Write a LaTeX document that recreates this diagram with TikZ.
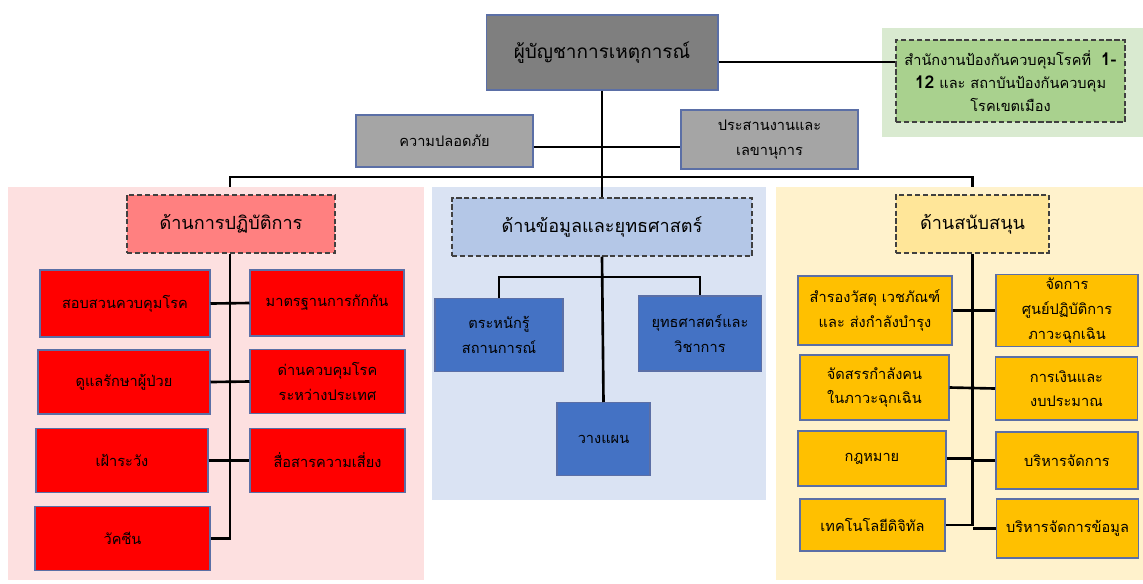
\documentclass[tikz,border=0pt]{standalone}
\usepackage{fontspec}
\newfontfamily\thaifont[Script=Thai]{Loma}
\definecolor{boxedge}{HTML}{5B6FA6}
\definecolor{icgray}{HTML}{7F7F7F}
\definecolor{staffgray}{HTML}{A5A5A5}
\definecolor{greenbg}{HTML}{D9EAD0}
\definecolor{greenbox}{HTML}{A9D18E}
\definecolor{redbg}{HTML}{FDE0E0}
\definecolor{redhead}{HTML}{FF8080}
\definecolor{reditem}{HTML}{FF0000}
\definecolor{bluebg}{HTML}{DAE3F3}
\definecolor{bluehead}{HTML}{B4C7E7}
\definecolor{blueitem}{HTML}{4472C4}
\definecolor{yellowbg}{HTML}{FFF2CC}
\definecolor{yellowhead}{HTML}{FFE699}
\definecolor{yellowitem}{HTML}{FFC000}
\begin{document}
\begin{tikzpicture}[x=0.02cm, y=-0.02cm,
  zone/.style={draw=none, inner sep=0pt},
  solidbox/.style={draw=boxedge, line width=0.6pt, align=center, inner sep=2pt,
    font=\thaifont\fontsize{8.3}{14}\selectfont},
  headbox/.style={draw=black!75, dash pattern=on 3pt off 1.5pt, line width=0.7pt,
    align=center, font=\thaifont\fontsize{10.3}{14}\selectfont},
  opsitem/.style={solidbox, fill=reditem, minimum height=1.28cm},
  infoitem/.style={solidbox, fill=blueitem, minimum height=1.46cm},
  supitem/.style={solidbox, fill=yellowitem, minimum width=2.84cm},
  link/.style={line width=1.5pt}]
\useasboundingbox (0,0) rectangle (1143,583);
% Group backgrounds
\node[zone, fill=greenbg, minimum width=5.22cm, minimum height=2.18cm] (odpcbg) at (1012.5,82.5) {};
\node[zone, fill=redbg, minimum width=8.32cm, minimum height=7.86cm] (opsbg) at (216,383.5) {};
\node[zone, fill=bluebg, minimum width=6.68cm, minimum height=6.26cm] (infobg) at (599,343.5) {};
\node[zone, fill=yellowbg, minimum width=7.34cm, minimum height=7.86cm] (supbg) at (959.5,383.5) {};
% Command
\node[solidbox, fill=icgray, minimum width=4.64cm, minimum height=1.5cm,
  font=\thaifont\fontsize{10.8}{15}\selectfont] (ic) at (602,52.5) {ผู้บัญชาการเหตุการณ์};
\node[headbox, fill=greenbox, minimum width=4.58cm, minimum height=1.64cm,
  font=\thaifont\fontsize{8.3}{13}\selectfont] (odpc) at (1010.5,81)
  {สำนักงานป้องกันควบคุมโรคที่ \ \textbf{\fontsize{10}{13}\selectfont 1-}\\
   \textbf{\fontsize{10}{13}\selectfont 12} และ สถาบันป้องกันควบคุม\\ โรคเขตเมือง};
\node[solidbox, fill=staffgray, minimum width=3.54cm, minimum height=1.04cm] (safety) at (444.5,141) {ความปลอดภัย};
\node[solidbox, fill=staffgray, minimum width=3.54cm, minimum height=1.18cm] (coord) at (769.5,139.5) {ประสานงานและ\\ เลขานุการ};
% Section heads
\node[headbox, fill=redhead, minimum width=4.16cm, minimum height=1.16cm] (ops) at (231,224) {ด้านการปฏิบัติการ};
\node[headbox, fill=bluehead, minimum width=6cm, minimum height=1.16cm] (info) at (602,227) {ด้านข้อมูลและยุทธศาสตร์};
\node[headbox, fill=yellowhead, minimum width=3.06cm, minimum height=1.16cm] (sup) at (972.5,224) {ด้านสนับสนุน};
% Operations
\node[opsitem, minimum width=3.4cm, minimum height=1.34cm] (op1) at (125,303.5) {สอบสวนควบคุมโรค};
\node[opsitem, minimum width=3.08cm, minimum height=1.32cm] (op2) at (327,303) {มาตรฐานการกักกัน};
\node[opsitem, minimum width=3.44cm] (op3) at (124,382) {ดูแลรักษาผู้ป่วย};
\node[opsitem, minimum width=3.1cm] (op4) at (327.5,381.5) {ด่านควบคุมโรค\\ ระหว่างประเทศ};
\node[opsitem, minimum width=3.44cm] (op5) at (122,460.5) {เฝ้าระวัง};
\node[opsitem, minimum width=3.1cm] (op6) at (327.5,460.5) {สื่อสารความเสี่ยง};
\node[opsitem, minimum width=3.5cm] (op7) at (122.5,538.5) {วัคซีน};
% Information and strategy
\node[infoitem, minimum width=2.56cm] (in1) at (499,335) {ตระหนักรู้\\ สถานการณ์};
\node[infoitem, minimum width=2.46cm, minimum height=1.5cm] (in2) at (700,333.5) {ยุทธศาสตร์และ\\ วิชาการ};
\node[infoitem, minimum width=1.86cm] (in3) at (603.5,439) {วางแผน};
% Support
\node[supitem, minimum width=3.08cm, minimum height=1.38cm] (su1) at (875,310.5) {สำรองวัสดุ เวชภัณฑ์\\ และ ส่งกำลังบำรุง};
\node[supitem, minimum height=1.38cm] (su2) at (1067,310.5) {จัดการ\\ ศูนย์ปฏิบัติการ\\ ภาวะฉุกเฉิน};
\node[supitem, minimum width=2.98cm, minimum height=1.3cm] (su3) at (874.5,387.5) {จัดสรรกำลังคน\\ ในภาวะฉุกเฉิน};
\node[supitem, minimum height=1.26cm] (su4) at (1066.5,388.5) {การเงินและ\\ งบประมาณ};
\node[supitem, minimum width=2.96cm, minimum height=1.1cm] (su5) at (872,458.5) {กฎหมาย};
\node[supitem, minimum height=1.14cm] (su6) at (1067,460.5) {บริหารจัดการ};
\node[supitem, minimum width=2.9cm, minimum height=1.04cm] (su7) at (872.5,525) {เทคโนโลยีดิจิทัล};
\node[supitem, minimum height=1.18cm] (su8) at (1067.5,528.5) {บริหารจัดการข้อมูล};
% Top links
\coordinate (odpcjoin) at (800,62);
\coordinate (staffjoin) at (602,147);
\coordinate (bar) at (602,177);
\draw[link] (ic.east |- odpcjoin) -- (odpc.west |- odpcjoin);
\draw[link] (ic.south) -- (info.north);
\draw[link] (safety.east |- staffjoin) -- (coord.west |- staffjoin);
\draw[link] (opsbg.north -| ops.south) ++(-1,0) |- (bar) -| (supbg.north -| sup.south);
% Operations links
\draw[link] (ops.south) ++(-1,0) |- (op7.east);
\draw[link] (op1.east) -- (op2.west);
\draw[link] (op3.east) -- (op4.west);
\draw[link] (op5.east) -- (op6.west);
% Information links
\coordinate (infosplit) at (602,277);
\draw[link] (info.south) -- (in3.north);
\draw[link] (in1.north) |- (infosplit) -| (in2.north);
% Support links
\draw[link] (sup.south) |- (su7.east);
\draw[link] (su1.east) -- (su2.west);
\draw[link] (su3.east) -- (su4.west);
\draw[link] (su5.east) -- (sup.south |- su5.east);
\draw[link] (su6.west) -- (sup.south |- su6.west);
\draw[link] (su8.west) -- (sup.south |- su8.west);
\end{tikzpicture}
\end{document}
